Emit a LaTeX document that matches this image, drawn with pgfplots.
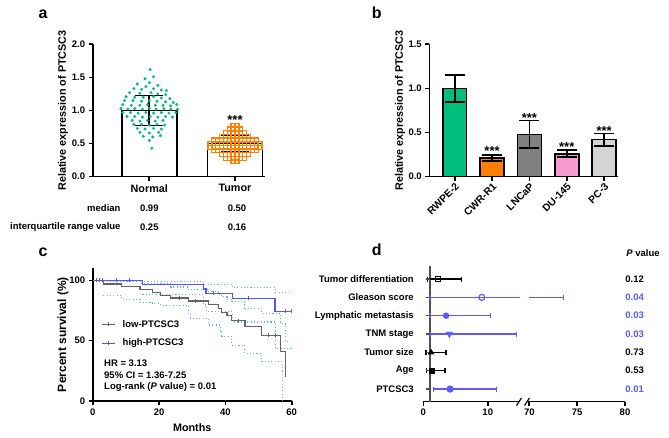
\documentclass[border=0pt]{standalone}
\usepackage{fontspec}
\setmainfont{Liberation Sans}[UprightFont=* Bold, ItalicFont=* Bold Italic, BoldFont=* Bold, BoldItalicFont=* Bold Italic]
\usepackage{pgfplots}
\pgfplotsset{compat=1.18}
\definecolor{ngreen}{RGB}{0,190,125}
\definecolor{torange}{RGB}{255,128,0}
\definecolor{cgray}{RGB}{128,128,128}
\definecolor{cpink}{RGB}{245,155,205}
\definecolor{clight}{RGB}{212,212,212}
\definecolor{kmblue}{RGB}{85,85,255}
\definecolor{kmgray}{RGB}{100,100,100}
\definecolor{ciblue}{RGB}{100,170,255}
\definecolor{fblue}{RGB}{90,90,255}
\newcommand{\fs}{\fontsize{9.5}{11}\selectfont}
\pgfplotsset{gp/.style={scale only axis, axis x line*=bottom, axis y line*=left,
  axis line style={line width=1.6pt,-}, tick align=outside, major tick length=4pt,
  tick style={line width=1.6pt, black}, minor tick num=0,
  tick label style={font=\fs}, /pgf/number format/assume math mode=true,
  label style={font=\fontsize{10.8}{12}\selectfont}},
  ebar/.style={forget plot, draw=none, mark=none, error bars/.cd, y dir=both, y explicit, error mark=|,
  error bar style={draw=black, line width=1.6pt}, error mark options={draw=black, line width=1.6pt, mark size=#1}},
  xebar/.style={error bars/.cd, x dir=both, x explicit, error mark=|,
  error bar style={line width=1.2pt}, error mark options={line width=1.2pt, mark size=2.5pt}}}
\begin{document}
\begin{tikzpicture}[x=1pt,y=1pt]
\path[use as bounding box] (0,0) rectangle (669,438);
% panel letters
\node[anchor=base west, font=\fontsize{16}{16}\selectfont, inner sep=0] at (38.3,419.7) {a};
\node[anchor=base west, font=\fontsize{16}{16}\selectfont, inner sep=0] at (371.7,419.7) {b};
\node[anchor=base west, font=\fontsize{16}{16}\selectfont, inner sep=0] at (38.3,181.3) {c};
\node[anchor=base west, font=\fontsize{16}{16}\selectfont, inner sep=0] at (371.7,182) {d};

% ---------------- panel a
\begin{axis}[gp, at={(92.7pt,261.3pt)}, anchor=south west, width=172.3pt, height=132.4pt,
  xmin=-0.66, xmax=1.35, ymin=0, ymax=2, clip=false,
  xtick={0,1}, xticklabels={Normal,Tumor}, xticklabel style={font=\fontsize{10.8}{12}\selectfont},
  ytick={0,0.5,1,1.5,2},
  yticklabel style={/pgf/number format/.cd, fixed, fixed zerofill, precision=1},
  ylabel={Relative expression of PTCSC3},
  ylabel style={at={(axis description cs:-0.172,0.5)}, anchor=center}]
% tumor bar and error bar under the squares
\addplot[ybar, bar shift=0pt, bar width=0.64, fill=white, draw=black, line width=1.6pt] coordinates {(1,0.50)};
\addplot[ebar=14pt] coordinates {(1,0.50) +- (0,0.12)};
\addplot[only marks, mark=square, mark size=2pt, mark options={draw=torange, line width=1.15pt}] table {
x y
0.9775 0.775
1.0225 0.775
0.9325 0.72
0.9775 0.72
1.0225 0.72
1.0675 0.72
0.8875 0.665
0.9325 0.665
0.9775 0.665
1.0225 0.665
1.0675 0.665
1.1125 0.665
0.8425 0.61
0.8875 0.61
0.9325 0.61
0.9775 0.61
1.0225 0.61
1.0675 0.61
1.1125 0.61
1.1575 0.61
0.7525 0.555
0.7975 0.555
0.8425 0.555
0.8875 0.555
0.9325 0.555
0.9775 0.555
1.0225 0.555
1.0675 0.555
1.1125 0.555
1.1575 0.555
1.2025 0.555
1.2475 0.555
0.7075 0.50
0.7525 0.50
0.7975 0.50
0.8425 0.50
0.8875 0.50
0.9325 0.50
0.9775 0.50
1.0225 0.50
1.0675 0.50
1.1125 0.50
1.1575 0.50
1.2025 0.50
1.2475 0.50
1.2925 0.50
0.7075 0.445
0.7525 0.445
0.7975 0.445
0.8425 0.445
0.8875 0.445
0.9325 0.445
0.9775 0.445
1.0225 0.445
1.0675 0.445
1.1125 0.445
1.1575 0.445
1.2025 0.445
1.2475 0.445
1.2925 0.445
0.7525 0.39
0.7975 0.39
0.8425 0.39
0.8875 0.39
0.9325 0.39
0.9775 0.39
1.0225 0.39
1.0675 0.39
1.1125 0.39
1.1575 0.39
1.2025 0.39
1.2475 0.39
0.8425 0.335
0.8875 0.335
0.9325 0.335
0.9775 0.335
1.0225 0.335
1.0675 0.335
1.1125 0.335
1.1575 0.335
0.8875 0.28
0.9325 0.28
0.9775 0.28
1.0225 0.28
1.0675 0.28
1.1125 0.28
0.9775 0.225
1.0225 0.225
};
\addplot[only marks, mark=*, mark size=1.3pt, mark options={draw=ngreen, fill=ngreen}] table {
x y
0.01 1.62
0.05 1.51
-0.05 1.48
-0.14 1.40
0.0 1.42
0.1 1.38
-0.04 1.36
-0.18 1.33
-0.09 1.32
0.05 1.33
0.14 1.31
0.2 1.30
-0.23 1.27
-0.11 1.26
0.02 1.27
0.1 1.25
0.19 1.24
-0.27 1.21
-0.17 1.20
-0.07 1.20
0.05 1.21
0.14 1.19
0.24 1.18
-0.29 1.15
-0.19 1.15
-0.09 1.14
0.0 1.15
0.09 1.14
0.19 1.13
0.28 1.12
-0.31 1.09
-0.21 1.08
-0.11 1.08
-0.02 1.09
0.07 1.08
0.16 1.08
0.25 1.07
0.32 1.09
-0.33 1.03
-0.25 1.02
-0.17 1.03
-0.08 1.02
0.0 1.03
0.08 1.02
0.17 1.03
0.25 1.02
0.33 1.02
-0.31 0.97
-0.22 0.97
-0.13 0.96
-0.04 0.97
0.05 0.96
0.14 0.97
0.23 0.96
0.31 0.97
-0.26 0.91
-0.17 0.91
-0.08 0.90
0.01 0.91
0.1 0.90
0.19 0.91
0.27 0.90
-0.2 0.85
-0.11 0.84
-0.02 0.85
0.07 0.84
0.16 0.85
-0.18 0.79
-0.09 0.79
0.0 0.78
0.09 0.79
0.18 0.78
-0.14 0.73
-0.05 0.72
0.05 0.73
0.14 0.72
-0.11 0.67
0.0 0.66
0.11 0.67
-0.07 0.61
0.04 0.60
0.13 0.62
0.0 0.55
0.03 0.43
};
\addplot[ybar, bar shift=0pt, bar width=0.64, fill=none, draw=black, line width=1.6pt] coordinates {(0,1.0)};
\addplot[ebar=14pt] coordinates {(0,1.0) +- (0,0.225)};
\node[anchor=base, font=\fontsize{13}{13}\selectfont, inner sep=0] at (axis cs:1,0.79) {***};
\end{axis}
% table under panel a
\node[anchor=east, font=\fs, inner sep=0] at (120.7,230) {median};
\node[font=\fs, inner sep=0] at (149.3,230) {0.99};
\node[font=\fs, inner sep=0] at (237,230) {0.50};
\node[anchor=east, font=\fs, inner sep=0] at (120.7,211) {interquartile range value};
\node[font=\fs, inner sep=0] at (149.3,211) {0.25};
\node[font=\fs, inner sep=0] at (237,211) {0.16};

% ---------------- panel b
\begin{axis}[gp, at={(429.3pt,261.3pt)}, anchor=south west, width=189pt, height=132.4pt,
  xmin=-0.68, xmax=4.38, ymin=0, ymax=1.5, clip=false,
  xtick={0,1,2,3,4}, xticklabels={RWPE-2,CWR-R1,LNCaP,DU-145,PC-3},
  xticklabel style={rotate=45, anchor=north east, inner sep=1pt, font=\fontsize{10.3}{12}\selectfont},
  ytick={0,0.5,1,1.5},
  yticklabel style={/pgf/number format/.cd, fixed, fixed zerofill, precision=1},
  ylabel={Relative expression of PTCSC3},
  ylabel style={at={(axis description cs:-0.155,0.5)}, anchor=center}]
\addplot[ybar, bar shift=0pt, bar width=0.64, fill=ngreen, draw=black, line width=1.6pt] coordinates {(0,1.0)};
\addplot[ybar, bar shift=0pt, bar width=0.64, fill=torange, draw=black, line width=1.6pt] coordinates {(1,0.21)};
\addplot[ybar, bar shift=0pt, bar width=0.64, fill=cgray, draw=black, line width=1.6pt] coordinates {(2,0.48)};
\addplot[ybar, bar shift=0pt, bar width=0.64, fill=cpink, draw=black, line width=1.6pt] coordinates {(3,0.26)};
\addplot[ybar, bar shift=0pt, bar width=0.64, fill=clight, draw=black, line width=1.6pt] coordinates {(4,0.42)};
\addplot[ebar=10pt] coordinates {(0,1.0) +- (0,0.155) (1,0.21) +- (0,0.035) (2,0.48) +- (0,0.155) (3,0.26) +- (0,0.04) (4,0.42) +- (0,0.07)};
\node[anchor=base, font=\fontsize{13}{13}\selectfont, inner sep=0] at (axis cs:1,0.235) {***};
\node[anchor=base, font=\fontsize{13}{13}\selectfont, inner sep=0] at (axis cs:2,0.615) {***};
\node[anchor=base, font=\fontsize{13}{13}\selectfont, inner sep=0] at (axis cs:3,0.285) {***};
\node[anchor=base, font=\fontsize{13}{13}\selectfont, inner sep=0] at (axis cs:4,0.47) {***};
\end{axis}

% ---------------- panel c
\begin{axis}[gp, at={(92.7pt,37pt)}, anchor=south west, width=199pt, height=132.7pt,
  xmin=0, xmax=60, ymin=0, ymax=110, clip=false,
  xtick={0,20,40,60}, ytick={0,50,100},
  xlabel={Months}, ylabel={Percent survival (\%)},
  ylabel style={at={(axis description cs:-0.149,0.5)}, anchor=center, font=\fontsize{12}{13}\selectfont},
  xlabel style={at={(axis description cs:0.5,-0.203)}, anchor=center}]
% confidence bands (dotted)
\addplot[const plot, ciblue, line width=1.1pt, dash pattern=on 1.1pt off 2.2pt] coordinates {(0,100)(15,98.9)(33.4,96.7)(42.2,94)(55,90)(60,90)};
\addplot[const plot, ciblue, line width=1.1pt, dash pattern=on 1.1pt off 2.2pt] coordinates {(15,88)(33.4,79.6)(34.2,74.1)(42.2,65.5)(55,43.8)(60,43.8)};
\addplot[const plot, ciblue, line width=1.1pt, dash pattern=on 1.1pt off 2.2pt] coordinates {(3.2,99.4)(14.3,97.5)(23.5,94.5)(28.8,92.5)(34.9,90.6)(37.9,88.5)(38.9,86.5)(40.5,84.5)(41.9,82.4)(45.9,76.9)(50.9,72.7)(56.7,64)(58.2,49)(58.7,49)};
\addplot[const plot, ciblue, line width=1.1pt, dash pattern=on 1.1pt off 2.2pt] coordinates {(3.2,87.5)(8.7,84.5)(14.3,82)(18,80.5)(20.5,79.3)(28.8,72)(29.4,68.6)(34.9,63)(38.4,58)(38.9,53.7)(41.9,46.3)(45.9,39.4)(50.9,32.5)(57.2,0)};
% survival curves
\addplot[const plot, kmgray, line width=1.3pt] coordinates {(0,100)(3.2,97)(8.7,95)(14.3,92.5)(18,90)(20.5,87.5)(23.5,85.5)(28.8,83)(34.9,80)(37.9,76.5)(38.9,73.5)(40.5,71)(41.9,66.5)(45.9,61.5)(50.9,54.5)(56.7,41)(58.2,20)};
\addplot[const plot, kmblue, line width=1.3pt] coordinates {(0,100)(15,96.3)(33.4,92.8)(34.2,89.3)(42.2,85.2)(55,74.4)(60,74.4)};
% censor marks
\addplot[only marks, mark=|, mark size=2pt, mark options={kmgray, line width=0.8pt}] coordinates {(1,100)(2,100)(26,85.5)(31,83)(44,66.5)(53,54.5)(55,54.5)};
\addplot[only marks, mark=|, mark size=2pt, mark options={kmblue, line width=0.8pt}] coordinates {(3,100)(7,100)(11,100)(36.5,89.3)(47,85.2)(58,74.4)(60,74.4)};
\end{axis}
% legend and statistics of panel c
\draw[kmgray, line width=1.3pt] (101.7,113.7) -- (115,113.7);
\draw[kmgray, line width=0.8pt] (108.3,111.7) -- (108.3,115.7);
\node[anchor=west, font=\fs, inner sep=0] at (122.5,113.7) {low-PTCSC3};
\draw[kmblue, line width=1.3pt] (101.7,94.7) -- (115,94.7);
\draw[kmblue, line width=0.8pt] (108.3,92.7) -- (108.3,96.7);
\node[anchor=west, font=\fs, inner sep=0] at (122.5,94.7) {high-PTCSC3};
\node[anchor=west, font=\fs, inner sep=0] at (104,74.7) {HR = 3.13};
\node[anchor=west, font=\fs, inner sep=0] at (104,63) {95\% CI = 1.36-7.25};
\node[anchor=west, font=\fs, inner sep=0] at (104,50.7) {Log-rank (\textit{P} value) = 0.01};

% ---------------- panel d (broken x axis)
\begin{axis}[gp, at={(423.3pt,36.3pt)}, anchor=south west, width=96.7pt, height=135.7pt,
  xmin=0, xmax=15, ymin=0.31, ymax=7.71,
  xtick={0,10}, ytick={1,2,3,4,5,6,7},
  yticklabels={PTCSC3,Age,Tumor size,TNM stage,Lymphatic metastasis,Gleason score,Tumor differentiation},
  y axis line style={draw=none}, ytick style={draw=none},
  yticklabel style={font=\fs, xshift=-2pt}]
\addplot[forget plot, kmgray!80!black, line width=1.6pt] coordinates {(1,0.31)(1,7.71)};
\addplot[forget plot, only marks, mark=-, mark size=2pt, mark options={kmgray!80!black, line width=1.2pt}] coordinates {(0.68,1)(0.68,2)(0.68,3)(0.68,4)(0.68,5)(0.68,6)(0.68,7)};
\addplot[black, line width=1.2pt, mark=square, mark size=2.6pt, mark options={fill=white}, xebar]
  coordinates {(2.24,7) -= (1.56,0) += (3.73,0)};
\addplot[fblue, line width=1.2pt, mark=o, mark size=3pt, mark options={fill=white}, xebar]
  coordinates {(9.08,6) -= (8.04,0) += (6.5,0)};
\addplot[fblue, line width=1.2pt, mark=*, mark size=2.6pt, xebar]
  coordinates {(3.53,5) -= (2.49,0) += (6.84,0)};
\addplot[fblue, line width=1.2pt, mark=triangle, mark size=3pt, mark options={rotate=180, fill=white}, xebar]
  coordinates {(4.05,4) -= (3.01,0) += (10.37,0)};
\addplot[black, line width=1.2pt, mark=triangle*, mark size=2.6pt, xebar]
  coordinates {(1.2,3) -= (0.78,0) += (2.33,0)};
\addplot[black, line width=1.2pt, mark=square*, mark size=2.3pt, xebar]
  coordinates {(1.4,2) -= (0.88,0) += (1.97,0)};
\addplot[fblue, line width=1.2pt, mark=*, mark size=3pt, xebar]
  coordinates {(4.15,1) -= (2.59,0) += (7.25,0)};
\end{axis}
\begin{axis}[gp, at={(526.7pt,36.3pt)}, anchor=south west, width=98.3pt, height=135.7pt,
  xmin=69.73, xmax=80, ymin=0.31, ymax=7.71,
  xtick={70,75,80}, axis y line=none]
\addplot[fblue, line width=1.2pt] coordinates {(70,6)(73.6,6)};
\addplot[only marks, mark=|, mark size=2.5pt, mark options={fblue, line width=1.2pt}] coordinates {(73.6,6)};
\end{axis}
% axis break marks
\draw[line width=1.2pt] (516.5,32.5) -- (521.5,40);
\draw[line width=1.2pt] (524.5,32.5) -- (529.5,40);
% P values
\node[font=\fs, inner sep=0] at (643,184.7) {\textit{P} value};
\node[font=\fs, inner sep=0] at (634.7,159) {0.12};
\node[font=\fs, inner sep=0, text=fblue] at (634.7,140.7) {0.04};
\node[font=\fs, inner sep=0, text=fblue] at (634.7,122.3) {0.03};
\node[font=\fs, inner sep=0, text=fblue] at (634.7,104) {0.03};
\node[font=\fs, inner sep=0] at (634.7,85.7) {0.73};
\node[font=\fs, inner sep=0] at (634.7,67.3) {0.53};
\node[font=\fs, inner sep=0, text=fblue] at (634.7,49) {0.01};
\end{tikzpicture}
\end{document}
